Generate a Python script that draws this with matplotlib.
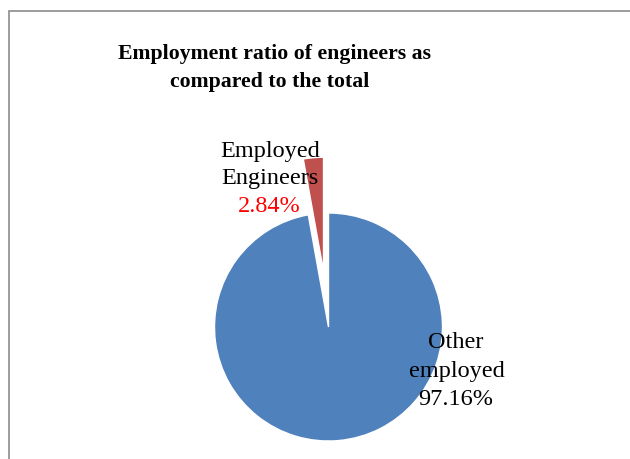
import matplotlib
matplotlib.use("Agg")
import matplotlib.pyplot as plt
from matplotlib.patches import Rectangle

categories = ["Other employed", "Employed Engineers"]
values = [97.16, 2.84]
colors = ["#4F81BD", "#C0504D"]
explode = [0.0, 56.0]
title_lines = ["Employment ratio of engineers as", "compared to the total"]

W, H = 630, 459
fig = plt.figure(figsize=(W / 100, H / 100), dpi=100)
ax = fig.add_axes([0, 0, 1, 1])

ax.pie(values, colors=colors, startangle=90, counterclock=False,
       explode=explode, center=(328.5, H - 327), radius=114,
       wedgeprops=dict(edgecolor="white", linewidth=1.0))
ax.set_xlim(0, W)
ax.set_ylim(0, H)
ax.set_aspect("equal", adjustable="box")
ax.axis("off")

fig.patches.append(Rectangle((8.5 / W, -0.1), 1.2, (H - 11.5) / H + 0.1,
                             transform=fig.transFigure, fill=False,
                             edgecolor="#8c8c8c", linewidth=1.2))

serif = ["Liberation Serif", "DejaVu Serif"]


def put(x, y_base, s, size, color="black", weight="normal"):
    fig.text(x / W, 1 - y_base / H, s, ha="center", va="baseline",
             fontsize=size, family=serif, color=color, fontweight=weight)


put(274, 59.3, title_lines[0], 15.7, weight="bold")
put(270, 87.3, title_lines[1], 15.7, weight="bold")

put(270, 157, "Employed", 17.5)
put(270, 184, "Engineers", 17.5)
put(269, 212, f"{values[1]:.2f}%", 17.5, color="red")

put(456, 348.5, "Other", 17.5)
put(457, 377, "employed", 17.5)
put(456, 405, f"{values[0]:.2f}%", 17.5)

fig.savefig("out.png", dpi=100)
